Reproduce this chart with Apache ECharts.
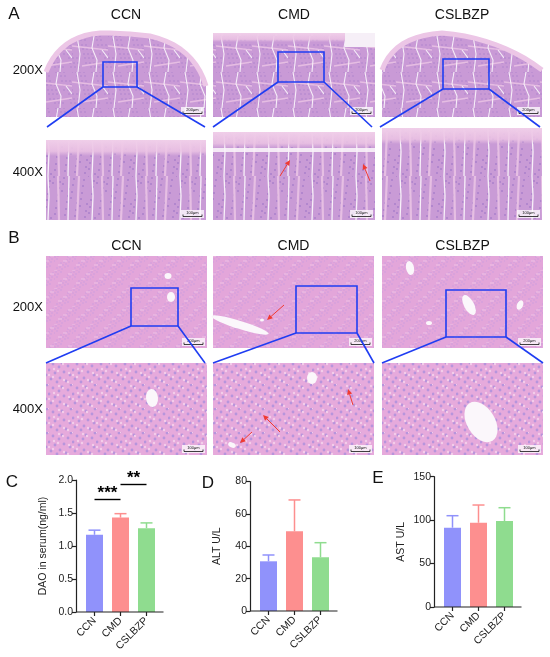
<!DOCTYPE html>
<html>
<head>
<meta charset="utf-8">
<script src="https://cdn.jsdelivr.net/npm/echarts@6/dist/echarts.min.js"></script>
<style>
html, body { margin: 0; padding: 0; background: #fff; }
#main { width: 550px; height: 657px; }
</style>
</head>
<body>
<div id="main"></div>
<script>
// ---- data ----
var groups = ['CCN', 'CMD', 'CSLBZP'];
var daoMean = [1.17, 1.43, 1.27];
var daoErr = [0.07, 0.06, 0.08];
var altMean = [30.7, 49.2, 33.2];
var altErr = [3.9, 19.4, 9.0];
var astMean = [91.3, 97.0, 99.0];
var astErr = [13.8, 20.4, 15.3];
var groupColors = ['#9092fb', '#fd8f8f', '#8fdc8f'];
var sigPairs = [[0, 1, 1.71, '***'], [1, 2, 1.94, '**']];
var magnifications = ['200X', '400X'];
var scaleBars = ['200\u03bcm', '100\u03bcm'];

var FONT = '"Liberation Sans", Arial, sans-serif';
var BLUE = '#1f3df2';
var ARROW = '#f03a32';

// small tiled textures standing in for the micrographs
function makeTile(w, h, base, draw) {
  var c = document.createElement('canvas');
  c.width = w; c.height = h;
  var g = c.getContext('2d');
  g.fillStyle = base;
  g.fillRect(0, 0, w, h);
  draw(g, w, h);
  return c;
}
function dots(g, w, h, n, col, r, a, b) {
  g.fillStyle = col;
  for (var i = 0; i < n; i++) {
    var x = (i * a) % w, y = (i * b + (i >> 1)) % h;
    g.beginPath(); g.arc(x, y, r, 0, Math.PI * 2); g.fill();
  }
}
function strokes(g, col, lw, lines) {
  g.strokeStyle = col; g.lineWidth = lw;
  lines.forEach(function (l) {
    g.beginPath(); g.moveTo(l[0], l[1]);
    for (var i = 2; i < l.length; i += 2) g.lineTo(l[i], l[i + 1]);
    g.stroke();
  });
}
var liverFine = makeTile(18, 18, '#e3a6da', function (g, w, h) {
  dots(g, w, h, 22, '#c79be0', 0.7, 7, 11);
  dots(g, w, h, 8, '#f1c6e8', 0.8, 5, 13);
});
var liverCoarse = makeTile(24, 24, '#e6aadc', function (g, w, h) {
  dots(g, w, h, 14, '#b795dc', 1.4, 11, 7);
  dots(g, w, h, 10, '#f3cdea', 1.2, 5, 17);
});
var gutFine = makeTile(36, 36, '#c99ad6', function (g, w, h) {
  dots(g, w, h, 50, '#a97fca', 0.7, 7, 13);
  strokes(g, '#e5bde2', 1.6, [[0, 10, 36, 14], [10, 30, 36, 26]]);
  strokes(g, '#f6eef8', 1.1, [[5, 0, 8, 18, 6, 36], [22, 0, 20, 12, 25, 24, 24, 36], [30, 14, 36, 22]]);
});
var gutCoarse = makeTile(44, 44, '#c99bd6', function (g, w, h) {
  dots(g, w, h, 40, '#aa80cb', 1.0, 9, 7);
  strokes(g, '#e6bfe3', 2.2, [[14, 0, 15, 44], [35, 0, 33, 44]]);
  strokes(g, '#f7f0f9', 1.3, [[4, 0, 5, 20, 4, 44], [25, 0, 24, 44]]);
});

var gfx = [];
function txt(x, y, s, size, align, weight) {
  gfx.push({ type: 'text', x: x, y: y, z: 20,
    style: { text: s, fontSize: size, fontFamily: FONT, fontWeight: weight || 'normal',
      fill: '#111', align: align || 'center', verticalAlign: 'middle' } });
}
function rect(x, y, w, h, fill, stroke, lw, z) {
  gfx.push({ type: 'rect', z: z || 5, shape: { x: x, y: y, width: w, height: h },
    style: { fill: fill || 'none', stroke: stroke || null, lineWidth: lw || 0 } });
}
function seg(x1, y1, x2, y2, col, lw, z) {
  gfx.push({ type: 'line', z: z || 12, shape: { x1: x1, y1: y1, x2: x2, y2: y2 },
    style: { stroke: col, lineWidth: lw } });
}
function blob(cx, cy, rx, ry, rot) {
  gfx.push({ type: 'circle', z: 7, x: cx, y: cy, rotation: rot || 0, scaleX: rx, scaleY: ry,
    shape: { cx: 0, cy: 0, r: 1 }, style: { fill: '#fbf7fb' } });
}
function arrow(x1, y1, x2, y2) {
  var ang = Math.atan2(y2 - y1, x2 - x1), L = 5.5, W = 2.6;
  var bx = x2 - L * Math.cos(ang), by = y2 - L * Math.sin(ang);
  seg(x1, y1, bx, by, ARROW, 1, 15);
  gfx.push({ type: 'polygon', z: 15, shape: { points: [[x2, y2],
    [bx + W * Math.sin(ang), by - W * Math.cos(ang)], [bx - W * Math.sin(ang), by + W * Math.cos(ang)]] },
    style: { fill: ARROW } });
}
function scaleBar(right, bottom, label) {
  rect(right - 25, bottom - 10, 23, 8, 'rgba(255,255,255,0.75)', null, 0, 9);
  gfx.push({ type: 'text', z: 10, x: right - 13.5, y: bottom - 7,
    style: { text: label, fontSize: 4, fontFamily: FONT, fill: '#111', align: 'center', verticalAlign: 'middle' } });
  seg(right - 23, bottom - 3.5, right - 4, bottom - 3.5, '#111', 0.8, 10);
  seg(right - 23, bottom - 3.5, right - 23, bottom - 5.5, '#111', 0.8, 10);
  seg(right - 4, bottom - 3.5, right - 4, bottom - 5.5, '#111', 0.8, 10);
}
function image(x, y, w, h, tile) {
  gfx.push({ type: 'rect', z: 5, shape: { x: x, y: y, width: w, height: h },
    style: { fill: { image: tile, repeat: 'repeat' } } });
}
function band(x, y, w, h) {
  gfx.push({ type: 'rect', z: 6, shape: { x: x, y: y, width: w, height: h },
    style: { fill: { type: 'linear', x: 0, y: 0, x2: 0, y2: 1, colorStops: [
      { offset: 0, color: 'rgba(240,206,233,1)' }, { offset: 0.7, color: 'rgba(236,196,228,0.85)' },
      { offset: 1, color: 'rgba(236,196,228,0)' }] } } });
}
// tissue outline with a curved top edge, sampled from quadratic pieces
function curvedImage(pieces, bottom, tile) {
  var pts = [[pieces[0][0], bottom], [pieces[0][0], pieces[0][1]]];
  for (var k = 1; k + 1 < pieces.length; k += 2) {
    var p0 = pts[pts.length - 1], c = pieces[k], p1 = pieces[k + 1];
    for (var t = 1; t <= 10; t++) {
      var u = t / 10;
      pts.push([(1 - u) * (1 - u) * p0[0] + 2 * u * (1 - u) * c[0] + u * u * p1[0],
                (1 - u) * (1 - u) * p0[1] + 2 * u * (1 - u) * c[1] + u * u * p1[1]]);
    }
  }
  pts.push([pts[pts.length - 1][0], bottom]);
  gfx.push({ type: 'polygon', z: 5, shape: { points: pts }, style: { fill: { image: tile, repeat: 'repeat' } } });
  gfx.push({ type: 'polyline', z: 6, shape: { points: pts.slice(1, pts.length - 1) },
    style: { stroke: '#ecc6e6', lineWidth: 5, fill: 'none' } });
}

// ---- panel A: intestine ----
var colA = [[46, 160], [213, 162], [382, 160]];
var top400A = [140, 132, 128];
txt(14, 14, 'A', 17, 'center');
groups.forEach(function (gname, i) { txt(colA[i][0] + colA[i][1] / 2, 15, gname, 14); });
txt(43, 70, magnifications[0], 13, 'right');
txt(43, 172, magnifications[1], 13, 'right');
curvedImage([[46, 72], [60, 36], [100, 33], [125, 33], [150, 36], [194, 46], [206, 86]], 117, gutFine);
image(213, 33, 162, 84, gutFine);
band(213, 33, 162, 9);
curvedImage([[382, 70], [394, 36], [442, 33], [500, 38], [542, 70]], 117, gutFine);
rect(345, 33, 30, 14, '#f6eff7', null, 0, 7);
colA.forEach(function (c, i) {
  var t = top400A[i];
  image(c[0], t, c[1], 220 - t, gutCoarse);
  band(c[0], t, c[1], 16);
  scaleBar(c[0] + c[1], 117, scaleBars[0]);
  scaleBar(c[0] + c[1], 220, scaleBars[1]);
});
rect(213, 148, 162, 4, 'rgba(250,244,250,0.9)', null, 0, 7);
rect(103, 62, 34, 25, 'none', BLUE, 1.6, 12);
rect(278, 52, 46, 30, 'none', BLUE, 1.6, 12);
rect(443, 59, 46, 30, 'none', BLUE, 1.6, 12);
seg(103, 87, 47, 127, BLUE, 1.6); seg(137, 87, 205, 127, BLUE, 1.6);
seg(278, 82, 213, 127, BLUE, 1.6); seg(324, 82, 372, 127, BLUE, 1.6);
seg(443, 89, 380, 127, BLUE, 1.6); seg(489, 89, 540, 127, BLUE, 1.6);
arrow(280, 176, 290, 160);
arrow(370, 181, 363, 164);

// ---- panel B: liver ----
var colB = [[46, 161], [213, 161], [382, 161]];
txt(14, 238, 'B', 17, 'center');
groups.forEach(function (gname, i) { txt(colB[i][0] + colB[i][1] / 2, 246, gname, 14); });
txt(43, 307, magnifications[0], 13, 'right');
txt(43, 409, magnifications[1], 13, 'right');
colB.forEach(function (c) {
  image(c[0], 256, c[1], 92, liverFine);
  image(c[0], 363, c[1], 92, liverCoarse);
  scaleBar(c[0] + c[1], 348, scaleBars[0]);
  scaleBar(c[0] + c[1], 455, scaleBars[1]);
});
blob(168, 276, 3.5, 3); blob(171, 297, 4, 5);
blob(152, 398, 6, 9, 0.1);
blob(240, 325, 30, 4, -0.3); blob(262, 320, 2, 1.5);
blob(312, 378, 5, 6); blob(232, 445, 4, 2.5, -0.4);
blob(410, 268, 4, 7, 0.2); blob(469, 305, 5, 11, 0.5); blob(520, 305, 3, 5, -0.4); blob(429, 323, 3, 2);
blob(481, 422, 14, 22, 0.55);
rect(131, 288, 47, 38, 'none', BLUE, 1.6, 12);
rect(296, 286, 61, 47, 'none', BLUE, 1.6, 12);
rect(446, 290, 60, 47, 'none', BLUE, 1.6, 12);
seg(131, 326, 46, 363, BLUE, 1.6); seg(178, 326, 205, 363, BLUE, 1.6);
seg(296, 333, 213, 363, BLUE, 1.6); seg(357, 333, 374, 363, BLUE, 1.6);
seg(446, 337, 382, 363, BLUE, 1.6); seg(506, 337, 543, 363, BLUE, 1.6);
arrow(284, 305, 267, 320);
arrow(353, 405, 348, 389);
arrow(280, 432, 263, 415);
arrow(252, 432, 240, 443);

// ---- panels C-E: bar charts ----
var panels = [
  { letter: 'C', lx: 12, axisX: 76, top: 480, height: 132, max: 2, interval: 0.5, name: 'DAO in serum(ng/ml)',
    mean: daoMean, err: daoErr, digits: 1 },
  { letter: 'D', lx: 208, axisX: 250, top: 481.5, height: 129.5, max: 80, interval: 20, name: 'ALT U/L',
    mean: altMean, err: altErr, digits: 0 },
  { letter: 'E', lx: 378, axisX: 434, top: 476.7, height: 130.3, max: 150, interval: 50, name: 'AST U/L',
    mean: astMean, err: astErr, digits: 0 }
];
var GAP = 5.5, CATW = 78;
var grids = [], xAxes = [], yAxes = [], series = [];
panels.forEach(function (p, k) {
  grids.push({ left: p.axisX + GAP, top: p.top, width: CATW, height: p.height });
  xAxes.push({ gridIndex: k, type: 'category', data: groups,
    axisLine: { show: false },
    axisTick: { show: true, alignWithLabel: true, length: 4, lineStyle: { color: '#222', width: 1.2 } },
    axisLabel: { rotate: 45, fontSize: 10.5, fontFamily: FONT, color: '#222', margin: 7 } });
  yAxes.push({ gridIndex: k, type: 'value', min: 0, max: p.max, interval: p.interval, offset: GAP,
    name: p.name, nameLocation: 'middle', nameGap: 27,
    nameTextStyle: { fontSize: 10.5, fontFamily: FONT, color: '#222' },
    splitLine: { show: false },
    axisLine: { show: true, lineStyle: { color: '#222', width: 1.2 } },
    axisTick: { show: true, length: 4, lineStyle: { color: '#222', width: 1.2 } },
    axisLabel: { fontSize: 10.5, fontFamily: FONT, color: '#222', margin: 3,
      formatter: function (v) { return v.toFixed(p.digits); } } });
  var bar = { type: 'bar', xAxisIndex: k, yAxisIndex: k, barWidth: 17, z: 2,
    data: p.mean.map(function (v, i) { return { value: v, itemStyle: { color: groupColors[i] } }; }) };
  if (k === 0) {
    bar.markLine = { silent: true, symbol: 'none', animation: false,
      lineStyle: { color: '#000', width: 1.4, type: 'solid' },
      label: { show: true, position: 'middle', distance: -3, fontSize: 17, fontWeight: 'bold',
        fontFamily: FONT, color: '#000', formatter: function (q) { return q.name; } },
      data: sigPairs.map(function (s) {
        return [{ name: s[3], coord: [s[0], s[2]] }, { coord: [s[1], s[2]] }];
      }) };
  }
  series.push(bar);
  series.push({ type: 'custom', xAxisIndex: k, yAxisIndex: k, z: 3,
    data: p.mean.map(function (v, i) { return [i, v, p.err[i]]; }),
    renderItem: function (params, api) {
      var i = api.value(0);
      var base = api.coord([i, api.value(1)]);
      var tip = api.coord([i, api.value(1) + api.value(2)]);
      var st = { stroke: groupColors[i], lineWidth: 1.5 };
      return { type: 'group', children: [
        { type: 'line', shape: { x1: base[0], y1: base[1], x2: tip[0], y2: tip[1] }, style: st },
        { type: 'line', shape: { x1: tip[0] - 6, y1: tip[1], x2: tip[0] + 6, y2: tip[1] }, style: st }
      ] };
    } });
  txt(p.lx, p.top + 2, p.letter, 17, 'center');
  // baseline runs from the y axis to just past the last bar slot
  seg(p.axisX, p.top + p.height, p.axisX + GAP + CATW + 4, p.top + p.height, '#222', 1.2, 12);
});

var chart = echarts.init(document.getElementById('main'), null, { renderer: 'canvas' });
chart.setOption({
  animation: false,
  backgroundColor: '#fff',
  grid: grids,
  xAxis: xAxes,
  yAxis: yAxes,
  series: series,
  graphic: { elements: gfx }
});
</script>
</body>
</html>
